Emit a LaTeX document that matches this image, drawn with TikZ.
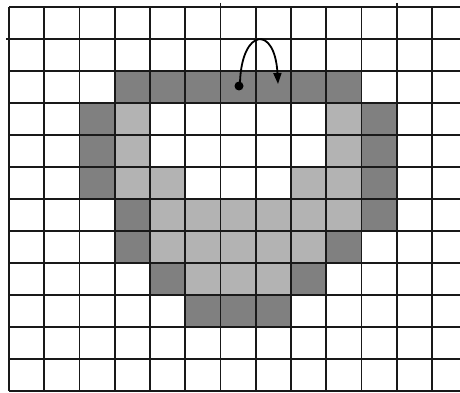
\documentclass[tikz,border=0pt]{standalone}
\usetikzlibrary{arrows.meta}
\definecolor{darkcell}{HTML}{808080}
\definecolor{lightcell}{HTML}{B3B3B3}
\begin{document}
\begin{tikzpicture}[x=1pt,y=-1pt,
  gridline/.style={line width=1.9pt,black!90},
  dcell/.style={fill=darkcell},
  lcell/.style={fill=lightcell}]
\useasboundingbox (0,0) rectangle (460,393);
\fill[white] (0,0) rectangle (460,393);
% dark cells (column/row)
\foreach \c/\r in {3/2,4/2,5/2,6/2,7/2,8/2,9/2,
  2/3,10/3,2/4,10/4,2/5,10/5,3/6,10/6,3/7,9/7,4/8,8/8,5/9,6/9,7/9}
  \fill[dcell] ({9+35.25*\c},{7+32*\r}) rectangle +(35.25,32);
% light cells
\foreach \c/\r in {3/3,9/3,3/4,9/4,3/5,4/5,8/5,9/5,
  4/6,5/6,6/6,7/6,8/6,9/6,4/7,5/7,6/7,7/7,8/7,5/8,6/8,7/8}
  \fill[lcell] ({9+35.25*\c},{7+32*\r}) rectangle +(35.25,32);
% grid
\foreach \i in {0,...,12}
  \draw[gridline] ({9+35.25*\i},7) -- ({9+35.25*\i},391);
\draw[gridline] ({9+35.25*6},3) -- ({9+35.25*6},7);
\draw[gridline] ({9+35.25*11},3) -- ({9+35.25*11},7);
\foreach \j in {0,...,12}
  \draw[gridline] (9,{7+32*\j}) -- (460,{7+32*\j});
\draw[gridline] (6,39) -- (9,39);
% arrow
\coordinate (s) at (240,82);
\coordinate (e) at (278,84);
\fill (239,86) circle (4.5);
\draw[line width=1.8pt,-{Triangle[length=11pt,width=8pt]}]
  (s) .. controls (242,28) and (275,25) .. (e);
\end{tikzpicture}
\end{document}
